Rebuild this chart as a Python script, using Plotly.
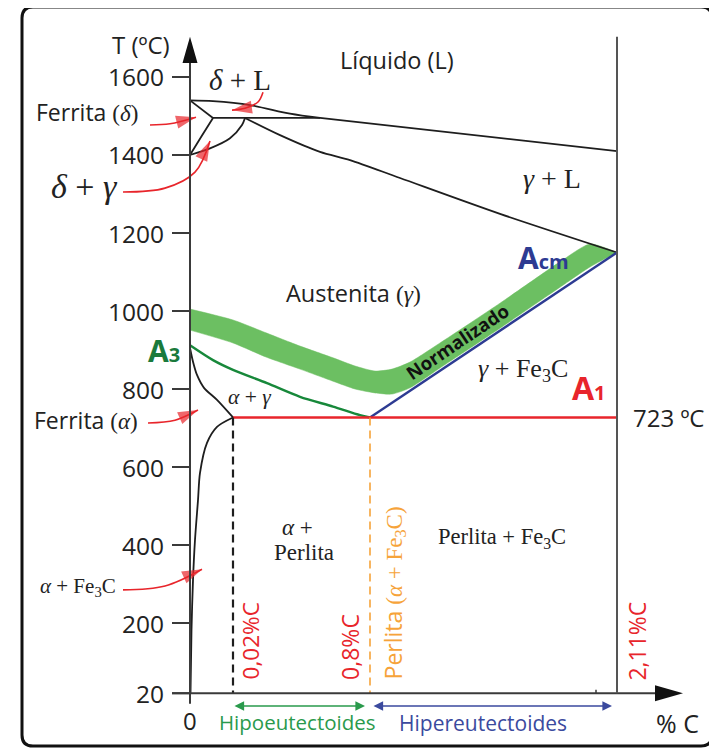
import plotly.graph_objects as go

# ---------------- data (schematic composition axis position, temperature °C) ----------------
y_ticks = [20, 200, 400, 600, 800, 1000, 1200, 1400, 1600]
y_tick_labels = ["20", "200", "400", "600", "800", "1000", "1200", "1400", "1600"]

x_alpha_max = 43     # 0,02 %C
x_eutectoid = 180    # 0,8 %C
x_gamma_max = 427    # 2,11 %C
T_eutectoid = 727
T_top = 1703

liquidus_x = [0, 23, 60, 100, 130, 427]
liquidus_T = [1540, 1538, 1528, 1506, 1495, 1410]

peritectic_x = [23, 130]
peritectic_T = [1495, 1495]

delta_solidus_x = [0, 23]
delta_solidus_T = [1540, 1495]

delta_solvus_x = [23, 12, 0]
delta_solvus_T = [1495, 1450, 1400]

gamma_delta_x = [0, 20, 40, 52, 55]
gamma_delta_T = [1400, 1417, 1443, 1477, 1495]

gamma_solidus_x = [55, 90, 130, 160, 210, 310, 427]
gamma_solidus_T = [1495, 1451, 1408, 1387, 1341, 1249, 1150]

a3_black_x = [0, 3, 7, 14, 27, 43]
a3_black_T = [905, 870, 836, 803, 772, 727]

alpha_solvus_x = [43, 27, 17, 10, 8, 5, 3, 1.5, 0.5]
alpha_solvus_T = [727, 703, 662, 585, 515, 413, 310, 182, 20]

a3_green_x = [0, 23, 43, 77, 110, 143, 170, 180]
a3_green_T = [912, 874, 849, 815, 780, 755, 733, 727]

acm_x = [180, 427]
acm_T = [727, 1150]

band_x = [0, 43, 76, 110, 143, 165, 185, 202, 220, 250, 310, 370, 400, 427]
band_upper = [1005, 977, 944, 910, 880, 859, 846, 851, 869, 918, 1020, 1126, 1172, 1150]
band_lower = [951, 918, 882, 851, 820, 800, 790, 787, 803, 854, 956, 1061, 1113, 1150]

# red pointer arrows (label -> region)
arrows = {
    "dL": ([73, 68, 55, 42], [1561, 1536, 1520, 1515]),
    "fd": ([-40, -20, 6], [1477, 1480, 1497]),
    "dg": ([-67, -25, 5, 20], [1305, 1315, 1356, 1436]),
    "fa": ([-42, -15, 8], [713, 720, 746]),
    "aF": ([-67, -25, 12], [285, 295, 338]),
}

SANS = "Open Sans"
SERIF = "Liberation Serif"
BLACK = "#1e1e1e"
AXIS = "#3a3a3a"
RED = "#e8252b"
BLUE = "#2d3b92"
DGREEN = "#17883a"
LGREEN = "#6cbf62"
ORANGE = "#f6a33a"

fig = go.Figure()

# green normalising band
fig.add_trace(go.Scatter(
    x=band_x + band_x[::-1], y=band_upper + band_lower[::-1],
    fill="toself", fillcolor=LGREEN, mode="lines",
    line=dict(color=LGREEN, width=0.5, shape="spline", smoothing=0.6),
    hoverinfo="skip", showlegend=False))


def line(x, y, color=BLACK, width=1.8, dash=None, shape="spline"):
    fig.add_trace(go.Scatter(x=x, y=y, mode="lines",
                             line=dict(color=color, width=width, dash=dash, shape=shape, smoothing=0.8),
                             hoverinfo="skip", showlegend=False))


line(liquidus_x, liquidus_T)
line(peritectic_x, peritectic_T, shape="linear")
line(delta_solidus_x, delta_solidus_T, shape="linear")
line(delta_solvus_x, delta_solvus_T)
line(gamma_delta_x, gamma_delta_T)
line(gamma_solidus_x, gamma_solidus_T)
line(a3_black_x, a3_black_T)
line(alpha_solvus_x, alpha_solvus_T)
line(a3_green_x, a3_green_T, color=DGREEN, width=2.4)
line(acm_x, acm_T, color=BLUE, width=2.4, shape="linear")
line([x_alpha_max, x_gamma_max], [T_eutectoid, T_eutectoid], color=RED, width=2.6, shape="linear")
line([x_alpha_max, x_alpha_max], [T_eutectoid, 20], color=BLACK, width=2.2, dash="8px,5px", shape="linear")
line([x_eutectoid, x_eutectoid], [T_eutectoid, 20], color=ORANGE, width=1.6, dash="8px,5px", shape="linear")

# red curved arrows
for key, (ax_, ay_) in arrows.items():
    n = len(ax_)
    fig.add_trace(go.Scatter(
        x=ax_, y=ay_, mode="lines+markers",
        line=dict(color=RED, width=1.6, shape="spline"),
        marker=dict(symbol="arrow", size=[0] * (n - 1) + [21], angleref="previous", color=RED,
                    line=dict(width=0)),
        hoverinfo="skip", showlegend=False))

shapes = []
# frame
shapes.append(dict(type="path",
                   path="M -157,1779.5 L 511,1779.5 Q 522,1779.5 522,1751 L 522,-87 Q 522,-115.4 511,-115.4 "
                        "L -157,-115.4 Q -168,-115.4 -168,-87 L -168,1751 Q -168,1779.5 -157,1779.5 Z",
                   line=dict(color="#111", width=3)))
# axes
shapes.append(dict(type="line", x0=0, x1=0, y0=20, y1=1640, line=dict(color=AXIS, width=2)))
shapes.append(dict(type="path", path="M -7.5,1636 L 0,1703 L 7.5,1636 Z", fillcolor="#111", line=dict(width=0)))
shapes.append(dict(type="line", x0=-18, x1=470, y0=20, y1=20, line=dict(color=AXIS, width=2)))
shapes.append(dict(type="path", path="M 465,40.5 L 493,20 L 465,-0.5 Z", fillcolor="#111", line=dict(width=0)))
shapes.append(dict(type="line", x0=0, x1=0, y0=20, y1=-7, line=dict(color=AXIS, width=2)))
shapes.append(dict(type="line", x0=406, x1=406, y0=20, y1=29, line=dict(color=AXIS, width=1.5)))
shapes.append(dict(type="line", x0=x_gamma_max, x1=x_gamma_max, y0=20, y1=T_top, line=dict(color="#555", width=2)))
for t in y_ticks:
    shapes.append(dict(type="line", x0=-18, x1=0, y0=t, y1=t, line=dict(color=AXIS, width=2)))
for s in shapes:
    s.setdefault("xref", "x")
    s.setdefault("yref", "y")
    s.setdefault("layer", "above")

ann = []


def text(x, y, s, size=21, color="#222", family=SANS, xanchor="center", yanchor="middle", angle=0):
    ann.append(dict(x=x, y=y, text=s, showarrow=False, xanchor=xanchor, yanchor=yanchor,
                    textangle=angle, font=dict(size=size, color=color, family=family)))


for t, lab in zip(y_ticks, y_tick_labels):
    text(-24, t, lab, size=24.5, xanchor="right")

sp = lambda s: f"<span style='font-family:{SERIF}'>{s}</span>"

text(-49, 1684, "T (ºC)", size=24)
text(207, 1644, "Líquido (L)", size=23.5)
text(50, 1592, "<i>δ</i> + L", size=29, family=SERIF)
text(-50, 1510, "Ferrita " + sp("(<i>δ</i>)"), size=23, xanchor="right")
text(-70, 1318, "<i>δ</i> + <i>γ</i>", size=34, family=SERIF, xanchor="right")
text(362, 1341, "<i>γ</i> + L", size=28, family=SERIF)
text(163, 1046, "Austenita " + sp("(<i>γ</i>)"), size=23.5)
text(-8, 900, "<b>A<span style='font-size:20px'>3</span></b>", size=30, color="#1a7a3c", xanchor="right")
text(353, 1136, "<b>A<span style='font-size:20px'>cm</span></b>", size=30, color=BLUE)
text(267, 921, "<b>Normalizado</b>", size=18.5, color="#111", angle=-34)
text(333, 849, "<i>γ</i> + Fe<sub>3</sub>C", size=26, family=SERIF)
text(399, 803, "<b>A<span style='font-size:20px'>1</span></b>", size=32, color=RED)
text(478, 728, "723 ºC", size=24)
text(59, 780, "<i>α</i> + <i>γ</i>", size=21.5, family=SERIF)
text(-50, 720, "Ferrita " + sp("(<i>α</i>)"), size=23, xanchor="right")
text(107, 444, "<i>α</i> +", size=23, family=SERIF)
text(114, 382, "Perlita", size=23, family=SERIF)
text(-72, 292, "<i>α</i> + Fe<sub>3</sub>C", size=21, family=SERIF, xanchor="right")
text(312, 418, "Perlita + Fe<sub>3</sub>C", size=22.5, family=SERIF)
text(60, 49, "0,02%C", size=22.5, color=RED, yanchor="bottom", angle=-90)
text(160, 49, "0,8%C", size=23, color=RED, yanchor="bottom", angle=-90)
text(203, 49, "Perlita " + sp("(<i>α</i> + Fe<sub>3</sub>C)"), size=23, color=ORANGE, yanchor="bottom", angle=-90)
text(447, 46, "2,11%C", size=23, color=RED, yanchor="bottom", angle=-90)
text(0, -49, "0", size=24)
text(107, -54, "Hipoeutectoides", size=20.5, color="#2a9a4c")
text(293, -56, "Hipereutectoides", size=21, color="#3b4a9e")
text(487, -56, "% C", size=25)

# double-headed range arrows
for (x0, x1, col) in [(x_alpha_max, 175, "#2a9a4c"), (182, 422, "#3b4a9e")]:
    ann.append(dict(x=x1, y=-13, ax=x0, ay=-13, xref="x", yref="y", axref="x", ayref="y",
                    text="", showarrow=True, arrowhead=2, arrowside="end+start", arrowsize=1.2,
                    arrowwidth=1.6, arrowcolor=col))

# page body has an 8px offset: figure is 709x740 placed at (8, 8)
fig.update_layout(
    width=709, height=740, margin=dict(l=0, r=0, t=0, b=0),
    paper_bgcolor="white", plot_bgcolor="white",
    xaxis=dict(range=[-182, 527], visible=False, fixedrange=True),
    yaxis=dict(range=[-120.5, 1776.9], visible=False, fixedrange=True),
    shapes=shapes, annotations=ann, showlegend=False,
)

fig.write_html("out.html")
